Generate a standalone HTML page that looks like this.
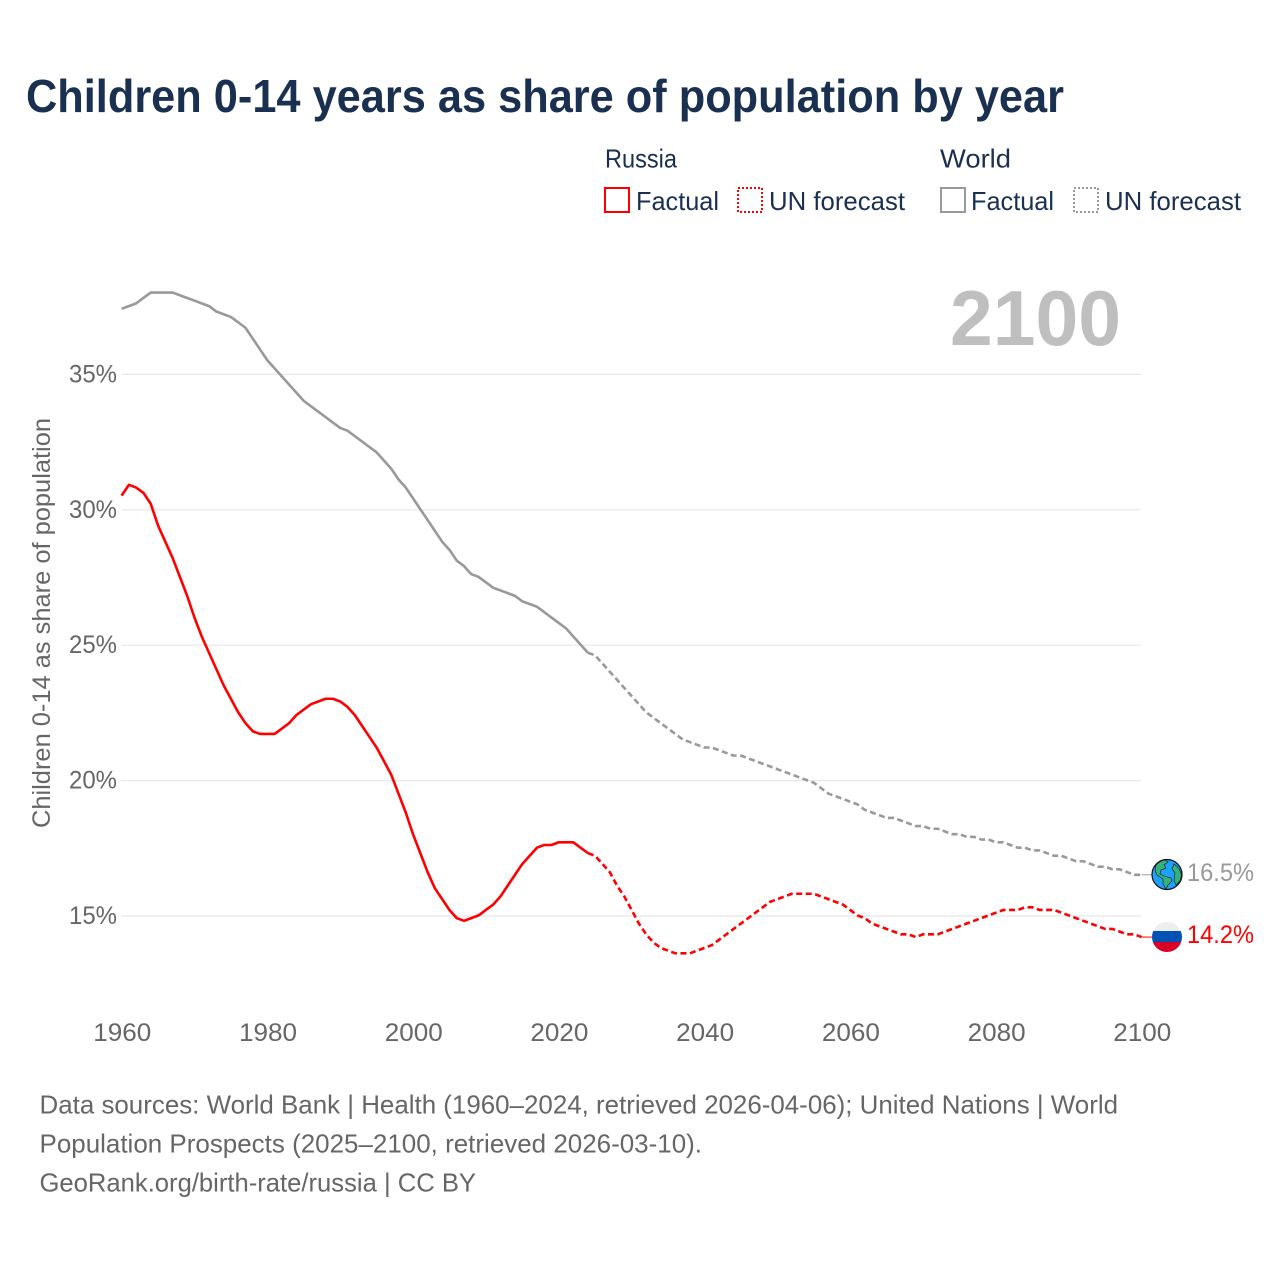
<!DOCTYPE html>
<html lang="en">
<head>
<meta charset="utf-8">
<title>Children 0-14 years as share of population by year</title>
<style>
html,body{margin:0;padding:0;background:#fff;width:1280px;height:1280px;overflow:hidden}
svg{display:block}
text{font-family:"Liberation Sans",sans-serif}
</style>
</head>
<body>
<svg id="chart" width="1280" height="1280" viewBox="0 0 1280 1280" xmlns="http://www.w3.org/2000/svg">
  <rect x="0" y="0" width="1280" height="1280" fill="#fff"/>
  <text x="26" y="112" font-size="46" font-weight="700" fill="#1a3050" textLength="1038" lengthAdjust="spacingAndGlyphs">Children 0-14 years as share of population by year</text>

  <g font-size="26" fill="#1a3050">
    <text x="605" y="167.5" textLength="72" lengthAdjust="spacingAndGlyphs">Russia</text>
    <text x="940" y="167.5" textLength="71" lengthAdjust="spacingAndGlyphs">World</text>
    <rect x="605" y="188" width="24" height="24" fill="none" stroke="#ff0000" stroke-width="2"/>
    <text x="636" y="210" textLength="83" lengthAdjust="spacingAndGlyphs">Factual</text>
    <rect x="738" y="188" width="24" height="24" fill="none" stroke="#ff0000" stroke-width="2" stroke-dasharray="2 2"/>
    <text x="769" y="210" textLength="136" lengthAdjust="spacingAndGlyphs">UN forecast</text>
    <rect x="941" y="188" width="24" height="24" fill="none" stroke="#999999" stroke-width="2"/>
    <text x="971" y="210" textLength="83" lengthAdjust="spacingAndGlyphs">Factual</text>
    <rect x="1074" y="188" width="24" height="24" fill="none" stroke="#999999" stroke-width="2" stroke-dasharray="2 2"/>
    <text x="1105" y="210" textLength="136" lengthAdjust="spacingAndGlyphs">UN forecast</text>
  </g>

  <text x="950" y="345" font-size="78" font-weight="700" fill="#bfbfbf" textLength="171" lengthAdjust="spacingAndGlyphs">2100</text>

  <g id="grid"></g>
  <g id="yTicks"></g>
  <g id="xTicks"></g>

  <text transform="translate(50 623) rotate(-90)" text-anchor="middle" font-size="25" fill="#666666" textLength="410" lengthAdjust="spacingAndGlyphs">Children 0-14 as share of population</text>

  <g id="series" transform="translate(-0.4 -0.6)"></g>

  <g>
    <circle cx="1167" cy="874.5" r="15" fill="#1da1ff" stroke="#111" stroke-width="1.2"/>
    <path d="M1156 865 Q1160 861 1165 860 L1168 862 L1164 865 L1166 868 L1161 870 L1160 874 L1164 876 L1171 878 L1172 881 L1168 885 L1166 889 L1163 884 L1163 879 L1157 875 L1155 870 Z" fill="#34b27b" stroke="#111" stroke-width="0.6"/>
    <path d="M1174 864 Q1180 868 1181.5 875 L1180 881 L1176 885 L1174 880 L1175 873 L1172 869 Z" fill="#34b27b" stroke="#111" stroke-width="0.6"/>
  </g>
  <defs>
    <clipPath id="flagClip"><circle cx="1167" cy="937" r="15"/></clipPath>
  </defs>
  <g clip-path="url(#flagClip)">
    <rect x="1152" y="922" width="30" height="9" fill="#eeeeee"/>
    <rect x="1152" y="931" width="30" height="11" fill="#0052b4"/>
    <rect x="1152" y="942" width="30" height="11" fill="#d80027"/>
  </g>
  <text x="1187" y="881" font-size="25" fill="#999999" textLength="67" lengthAdjust="spacingAndGlyphs">16.5%</text>
  <text x="1187" y="943" font-size="25" fill="#ff0000" textLength="67" lengthAdjust="spacingAndGlyphs">14.2%</text>

  <g font-size="26" fill="#666666">
    <text x="39.5" y="1113.5" textLength="1078.5" lengthAdjust="spacingAndGlyphs">Data sources: World Bank | Health (1960–2024, retrieved 2026-04-06); United Nations | World</text>
    <text x="39.5" y="1152.5" textLength="662.5" lengthAdjust="spacingAndGlyphs">Population Prospects (2025–2100, retrieved 2026-03-10).</text>
    <text x="39.5" y="1191.5" textLength="436.5" lengthAdjust="spacingAndGlyphs">GeoRank.org/birth-rate/russia | CC BY</text>
  </g>
</svg>
<script>
const START_YEAR = 1960;
const END_YEAR = 2100;
const FORECAST_START = 2024;
const xTickYears = [1960, 1980, 2000, 2020, 2040, 2060, 2080, 2100];
const yTickValues = [15, 20, 25, 30, 35];
const russiaFactual = [30.5,30.9,30.8,30.6,30.2,29.4,28.8,28.2,27.5,26.8,26.0,25.3,24.7,24.1,23.5,23.0,22.5,22.1,21.8,21.7,21.7,21.7,21.9,22.1,22.4,22.6,22.8,22.9,23.0,23.0,22.9,22.7,22.4,22.0,21.6,21.2,20.7,20.2,19.5,18.8,18.0,17.3,16.6,16.0,15.6,15.2,14.9,14.8,14.9,15.0,15.2,15.4,15.7,16.1,16.5,16.9,17.2,17.5,17.6,17.6,17.7,17.7,17.7,17.5,17.3];
const russiaForecast = [17.2,16.9,16.6,16.1,15.7,15.2,14.7,14.3,14.0,13.8,13.7,13.6,13.6,13.6,13.7,13.8,13.9,14.1,14.3,14.5,14.7,14.9,15.1,15.3,15.5,15.6,15.7,15.8,15.8,15.8,15.8,15.7,15.6,15.5,15.4,15.2,15.0,14.9,14.7,14.6,14.5,14.4,14.3,14.3,14.2,14.3,14.3,14.3,14.4,14.5,14.6,14.7,14.8,14.9,15.0,15.1,15.2,15.2,15.2,15.3,15.3,15.2,15.2,15.2,15.1,15.0,14.9,14.8,14.7,14.6,14.5,14.5,14.4,14.3,14.3,14.2];
const worldFactual = [37.4,37.5,37.6,37.8,38.0,38.0,38.0,38.0,37.9,37.8,37.7,37.6,37.5,37.3,37.2,37.1,36.9,36.7,36.3,35.9,35.5,35.2,34.9,34.6,34.3,34.0,33.8,33.6,33.4,33.2,33.0,32.9,32.7,32.5,32.3,32.1,31.8,31.5,31.1,30.8,30.4,30.0,29.6,29.2,28.8,28.5,28.1,27.9,27.6,27.5,27.3,27.1,27.0,26.9,26.8,26.6,26.5,26.4,26.2,26.0,25.8,25.6,25.3,25.0,24.7];
const worldForecast = [24.6,24.3,24.0,23.7,23.4,23.1,22.8,22.5,22.3,22.1,21.9,21.7,21.5,21.4,21.3,21.2,21.2,21.1,21.0,20.9,20.9,20.8,20.7,20.6,20.5,20.4,20.3,20.2,20.1,20.0,19.9,19.7,19.5,19.4,19.3,19.2,19.1,18.9,18.8,18.7,18.6,18.6,18.5,18.4,18.3,18.3,18.2,18.2,18.1,18.0,18.0,17.9,17.9,17.8,17.8,17.7,17.7,17.6,17.5,17.5,17.4,17.4,17.3,17.2,17.2,17.1,17.0,17.0,16.9,16.8,16.8,16.7,16.7,16.6,16.5,16.5];

const NS = 'http://www.w3.org/2000/svg';
function xScale(year) { return 122 + (year - START_YEAR) * (1020 / (END_YEAR - START_YEAR)); }
function yScale(value) { return 916 - (value - 15) * 27.08; }
function make(tag, attrs, parent) {
  const el = document.createElementNS(NS, tag);
  for (const k in attrs) el.setAttribute(k, attrs[k]);
  parent.appendChild(el);
  return el;
}
function linePoints(values, firstYear) {
  return values.map(function (v, i) { return xScale(firstYear + i).toFixed(2) + ',' + yScale(v).toFixed(2); }).join(' ');
}

const gridG = document.getElementById('grid');


const yG = document.getElementById('yTicks');


const xG = document.getElementById('xTicks');


const seriesG = document.getElementById('series');



yTickValues.forEach(function (v) {
  const g = make('line', { x1: 121.5, x2: 1141, y1: yScale(v), y2: yScale(v), stroke: '#e8e8e8', 'stroke-width': 1.2 }, gridG);
  
  
  const t = make('text', { x: 117, y: yScale(v) + 8, 'text-anchor': 'end', 'font-size': 25, fill: '#666666', textLength: 48, lengthAdjust: 'spacingAndGlyphs' }, yG);
  t.textContent = v + '%';
  
  
});

xTickYears.forEach(function (yr) {
  const t = make('text', { x: xScale(yr) + 0.3, y: 1041, 'text-anchor': 'middle', 'font-size': 25, fill: '#666666', textLength: 58, lengthAdjust: 'spacingAndGlyphs' }, xG);
  t.textContent = String(yr);
  
  
});

function drawSeries(name, color, factual, forecast) {
  const solid = make('polyline', { points: linePoints(factual, START_YEAR), fill: 'none', stroke: color, 'stroke-width': 2.6, 'stroke-linejoin': 'round' }, seriesG);
  
  
  const joined = [factual[factual.length - 1]].concat(forecast);
  const dashed = make('polyline', { points: linePoints(joined, FORECAST_START), fill: 'none', stroke: color, 'stroke-width': 2.6, 'stroke-dasharray': '6 3.5', 'stroke-linejoin': 'round' }, seriesG);
  
  
  const last = yScale(forecast[forecast.length - 1]);
  const leader = make('line', { x1: xScale(END_YEAR), x2: 1153, y1: last, y2: last, stroke: color, 'stroke-width': 1 }, seriesG);
  
  
}
drawSeries('world', '#999999', worldFactual, worldForecast);
drawSeries('russia', '#ff0000', russiaFactual, russiaForecast);
</script>
</body>
</html>
